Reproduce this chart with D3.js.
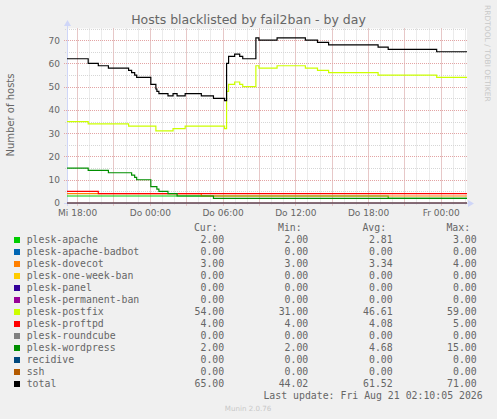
<!DOCTYPE html>
<html>
<head>
<meta charset="utf-8">
<script src="https://cdn.jsdelivr.net/npm/d3@7"></script>
<style>
  body { margin: 0; background: #f0f0f0; }
  svg { display: block; }
  .tick text { fill: #666; font-family: "DejaVu Sans", sans-serif; font-size: 9px; }
</style>
</head>
<body>
<svg id="chart"></svg>
<script>
// time window of the graph (33 hours, ends at last update)
const timeRange = ["2026-08-19 17:10:05", "2026-08-21 02:10:05"];

// each series: [time of change, value] steps
const apache = [["2026-08-19 17:10", 3], ["2026-08-20 19:40", 2]];
const apacheBadbot = [["2026-08-19 17:10", 0]];
const dovecot = [["2026-08-19 17:10", 4], ["2026-08-20 04:15", 3]];
const oneWeekBan = [["2026-08-19 17:10", 0]];
const panel = [["2026-08-19 17:10", 0]];
const permanentBan = [["2026-08-19 17:10", 0]];
const postfix = [
  ["2026-08-19 17:10", 35], ["2026-08-19 18:55", 34], ["2026-08-19 22:15", 33],
  ["2026-08-20 00:30", 31], ["2026-08-20 01:55", 32], ["2026-08-20 02:55", 33],
  ["2026-08-20 06:10", 32], ["2026-08-20 06:20", 48], ["2026-08-20 06:30", 51],
  ["2026-08-20 07:00", 52], ["2026-08-20 07:25", 51], ["2026-08-20 07:40", 50],
  ["2026-08-20 08:45", 59], ["2026-08-20 09:00", 58], ["2026-08-20 10:30", 59],
  ["2026-08-20 12:50", 58], ["2026-08-20 13:50", 57], ["2026-08-20 14:45", 56],
  ["2026-08-20 18:50", 55], ["2026-08-20 23:40", 54]
];
const proftpd = [["2026-08-19 17:10", 5], ["2026-08-19 19:45", 4]];
const roundcube = [["2026-08-19 17:10", 0]];
const wordpress = [
  ["2026-08-19 17:10", 15], ["2026-08-19 18:55", 14], ["2026-08-19 20:35", 13],
  ["2026-08-19 22:30", 12], ["2026-08-19 22:45", 11], ["2026-08-19 22:55", 10],
  ["2026-08-20 00:05", 7], ["2026-08-20 00:35", 6], ["2026-08-20 00:45", 5],
  ["2026-08-20 01:30", 4], ["2026-08-20 02:15", 3], ["2026-08-20 05:15", 2]
];
const recidive = [["2026-08-19 17:10", 0]];
const ssh = [["2026-08-19 17:10", 0]];
const total = [
  ["2026-08-19 17:10", 62], ["2026-08-19 18:55", 60], ["2026-08-19 19:45", 59],
  ["2026-08-19 20:35", 58], ["2026-08-19 22:15", 57], ["2026-08-19 22:30", 56],
  ["2026-08-19 22:45", 55], ["2026-08-19 22:55", 54], ["2026-08-20 00:05", 51],
  ["2026-08-20 00:30", 49], ["2026-08-20 00:35", 48], ["2026-08-20 00:45", 47],
  ["2026-08-20 01:30", 46], ["2026-08-20 01:55", 47], ["2026-08-20 02:15", 46],
  ["2026-08-20 02:55", 47], ["2026-08-20 04:15", 46], ["2026-08-20 05:15", 45],
  ["2026-08-20 06:10", 44], ["2026-08-20 06:20", 60], ["2026-08-20 06:30", 63],
  ["2026-08-20 07:00", 64], ["2026-08-20 07:25", 63], ["2026-08-20 07:40", 62],
  ["2026-08-20 08:45", 71], ["2026-08-20 09:00", 70], ["2026-08-20 10:30", 71],
  ["2026-08-20 12:50", 70], ["2026-08-20 13:50", 69], ["2026-08-20 14:45", 68],
  ["2026-08-20 18:50", 67], ["2026-08-20 19:40", 66], ["2026-08-20 23:40", 65]
];

const seriesNames = ["plesk-apache", "plesk-apache-badbot", "plesk-dovecot", "plesk-one-week-ban",
  "plesk-panel", "plesk-permanent-ban", "plesk-postfix", "plesk-proftpd", "plesk-roundcube",
  "plesk-wordpress", "recidive", "ssh", "total"];
const seriesColors = ["#00CC00", "#0066B3", "#FF8000", "#FFCC00", "#330099", "#990099", "#CCFF00",
  "#FF0000", "#808080", "#008F00", "#00487D", "#B35A00", "#000000"];
const seriesData = [apache, apacheBadbot, dovecot, oneWeekBan, panel, permanentBan, postfix,
  proftpd, roundcube, wordpress, recidive, ssh, total];

// legend columns
const curValues = ["2.00", "0.00", "3.00", "0.00", "0.00", "0.00", "54.00", "4.00", "0.00", "2.00", "0.00", "0.00", "65.00"];
const minValues = ["2.00", "0.00", "3.00", "0.00", "0.00", "0.00", "31.00", "4.00", "0.00", "2.00", "0.00", "0.00", "44.02"];
const avgValues = ["2.81", "0.00", "3.34", "0.00", "0.00", "0.00", "46.61", "4.08", "0.00", "4.68", "0.00", "0.00", "61.52"];
const maxValues = ["3.00", "0.00", "4.00", "0.00", "0.00", "0.00", "59.00", "5.00", "0.00", "15.00", "0.00", "0.00", "71.00"];

const yTicks = [0, 10, 20, 30, 40, 50, 60, 70];
const xTickTimes = ["2026-08-19 18:00", "2026-08-20 00:00", "2026-08-20 06:00", "2026-08-20 12:00", "2026-08-20 18:00", "2026-08-21 00:00"];
const xTickLabels = ["Mi 18:00", "Do 00:00", "Do 06:00", "Do 12:00", "Do 18:00", "Fr 00:00"];

const W = 497, H = 419;
const plot = { left: 67, right: 467, top: 28.5, bottom: 203 };

const parseFull = d3.timeParse("%Y-%m-%d %H:%M:%S");
const parseMin = d3.timeParse("%Y-%m-%d %H:%M");
const tStart = parseFull(timeRange[0]);
const tEnd = parseFull(timeRange[1]);

const svg = d3.select("#chart").attr("width", W).attr("height", H);
svg.append("rect").attr("width", W).attr("height", H).attr("fill", "#f0f0f0");

const x = d3.scaleTime().domain([tStart, tEnd]).range([plot.left, plot.right]);
const y = d3.scaleLinear().domain([0, 75]).range([plot.bottom, plot.top]);

// canvas
svg.append("rect")
  .attr("x", plot.left).attr("y", plot.top)
  .attr("width", plot.right - plot.left).attr("height", plot.bottom - plot.top)
  .attr("fill", "#ffffff");

// grid
const grid = svg.append("g").attr("fill", "none").attr("stroke-width", 1).attr("stroke-dasharray", "1,1");
const minorHours = d3.timeHour.every(1).range(tStart, tEnd);
const majorHours = d3.timeHour.every(3).range(tStart, tEnd);
grid.selectAll(".vminor").data(minorHours).enter().append("line")
  .attr("x1", d => Math.round(x(d)) + 0.5).attr("x2", d => Math.round(x(d)) + 0.5)
  .attr("y1", plot.top).attr("y2", plot.bottom + 2)
  .attr("stroke", "#d6d6d6");
grid.selectAll(".hminor").data(d3.range(5, 76, 10)).enter().append("line")
  .attr("x1", plot.left - 2).attr("x2", plot.right)
  .attr("y1", d => Math.round(y(d)) + 0.5).attr("y2", d => Math.round(y(d)) + 0.5)
  .attr("stroke", "#d6d6d6");
grid.selectAll(".vmajor").data(majorHours).enter().append("line")
  .attr("x1", d => Math.round(x(d)) + 0.5).attr("x2", d => Math.round(x(d)) + 0.5)
  .attr("y1", plot.top).attr("y2", plot.bottom + 3)
  .attr("stroke", "#e3a4a4");
grid.selectAll(".hmajor").data(yTicks.slice(1)).enter().append("line")
  .attr("x1", plot.left - 3).attr("x2", plot.right)
  .attr("y1", d => Math.round(y(d)) + 0.5).attr("y2", d => Math.round(y(d)) + 0.5)
  .attr("stroke", "#e3a4a4");

// axes lines + arrows
const axisColor = "#cfd6f8";
svg.append("line").attr("x1", plot.left + 0.5).attr("x2", plot.left + 0.5)
  .attr("y1", plot.bottom + 3).attr("y2", 22).attr("stroke", axisColor);
svg.append("line").attr("x1", plot.left - 3).attr("x2", 470)
  .attr("y1", plot.bottom + 0.5).attr("y2", plot.bottom + 0.5).attr("stroke", axisColor);
svg.append("path").attr("d", "M64,26L67.5,20L71,26Z").attr("fill", axisColor);
svg.append("path").attr("d", "M468,200L474,203.5L468,207Z").attr("fill", axisColor);

// series lines
svg.append("clipPath").attr("id", "clip").append("rect")
  .attr("x", plot.left).attr("y", plot.top - 2)
  .attr("width", plot.right - plot.left).attr("height", plot.bottom - plot.top + 4);

const line = d3.line()
  .x(d => x(d[0]))
  .y(d => y(d[1]))
  .curve(d3.curveStepAfter);

const lines = svg.append("g").attr("clip-path", "url(#clip)").attr("fill", "none");
seriesData.forEach((s, i) => {
  const pts = s.map(p => [parseMin(p[0]), p[1]]);
  pts.push([tEnd, s[s.length - 1][1]]);
  lines.append("path")
    .attr("d", line(pts))
    .attr("stroke", seriesColors[i])
    .attr("stroke-width", 1.2)
    .attr("stroke-opacity", s.length === 1 ? 0.45 : 1);
});

// tick labels
svg.append("g")
  .attr("transform", `translate(${plot.left},0)`)
  .call(d3.axisLeft(y).tickValues(yTicks).tickSize(0).tickPadding(7))
  .call(g => g.select(".domain").remove());

const xTickDates = xTickTimes.map(parseMin);
svg.append("g")
  .attr("transform", `translate(0,${plot.bottom})`)
  .call(d3.axisBottom(x).tickValues(xTickDates).tickSize(0).tickPadding(6.5)
    .tickFormat((d, i) => xTickLabels[i]))
  .call(g => g.select(".domain").remove());

// title and side texts
svg.append("text")
  .attr("x", 248.5).attr("y", 23.5)
  .attr("text-anchor", "middle")
  .attr("font-family", "DejaVu Sans, sans-serif").attr("font-size", 12.5)
  .attr("fill", "#666")
  .text("Hosts blacklisted by fail2ban - by day");

svg.append("text")
  .attr("transform", "translate(10.7,115) rotate(-90)")
  .attr("text-anchor", "middle").attr("dominant-baseline", "central")
  .attr("font-family", "DejaVu Sans, sans-serif").attr("font-size", 10)
  .attr("fill", "#666")
  .text("Number of hosts");

svg.append("text")
  .attr("transform", "translate(487.5,5) rotate(90)")
  .attr("dominant-baseline", "central")
  .attr("font-family", "DejaVu Sans, sans-serif").attr("font-size", 7.5)
  .attr("fill", "#c8c8c8")
  .text("RRDTOOL / TOBI OETIKER");

// legend
const mono = "DejaVu Sans Mono, monospace";
const legendFont = 9.85;
const colRight = [224.2, 308.3, 392.7, 476.7];
const colHeads = ["Cur:", "Min:", "Avg:", "Max:"];
const legend = svg.append("g").attr("font-family", mono).attr("font-size", legendFont).attr("fill", "#666");

legend.selectAll(".head").data(colHeads).enter().append("text")
  .attr("x", (d, i) => colRight[i] - 6.6).attr("y", 230.7)
  .attr("text-anchor", "end")
  .text(d => d);

const rows = legend.selectAll(".row").data(seriesNames).enter().append("g")
  .attr("transform", (d, i) => `translate(0,${242.7 + i * 12})`);

rows.append("rect")
  .attr("x", 14).attr("y", -5.7).attr("width", 6).attr("height", 6)
  .attr("fill", (d, i) => seriesColors[i]);

rows.append("text").attr("x", 26.7).text(d => d);

[curValues, minValues, avgValues, maxValues].forEach((col, c) => {
  rows.append("text")
    .attr("x", colRight[c])
    .attr("text-anchor", "end")
    .text((d, i) => col[i]);
});

legend.append("text")
  .attr("x", 482.7).attr("y", 399)
  .attr("text-anchor", "end")
  .text("Last update: Fri Aug 21 02:10:05 2026");

svg.append("text")
  .attr("x", 248).attr("y", 411)
  .attr("text-anchor", "middle")
  .attr("font-family", "DejaVu Sans, sans-serif").attr("font-size", 7.1)
  .attr("fill", "#c8c8c8")
  .text("Munin 2.0.76");
</script>
</body>
</html>
